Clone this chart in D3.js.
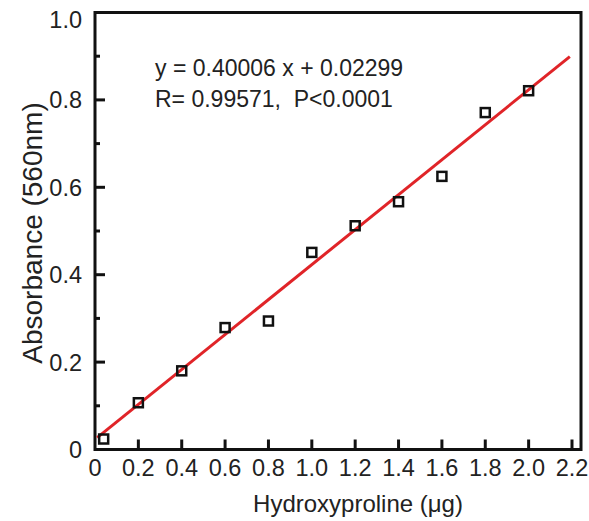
<!DOCTYPE html>
<html>
<head>
<meta charset="utf-8">
<script src="https://cdn.jsdelivr.net/npm/d3@7"></script>
<style>
  html, body { margin: 0; padding: 0; background: #fff; }
  svg text { font-family: "Liberation Sans", Arial, sans-serif; fill: #222; white-space: pre; }
</style>
</head>
<body>
<div id="chart"></div>
<script>
// Standard curve: hydroxyproline amount vs absorbance
const amounts = [0.04, 0.2, 0.4, 0.6, 0.8, 1.0, 1.2, 1.4, 1.6, 1.8, 2.0];
const absorbance = [0.024, 0.107, 0.180, 0.279, 0.294, 0.451, 0.512, 0.567, 0.625, 0.771, 0.821];

// Linear fit reported on the chart
const slope = 0.40006;
const intercept = 0.02299;
const fitRange = [0.01, 2.19];
const fitLabels = ["y = 0.40006 x + 0.02299", "R= 0.99571,  P<0.0001"];

const xTicks = [0.2, 0.4, 0.6, 0.8, 1.0, 1.2, 1.4, 1.6, 1.8, 2.0, 2.2];
const xTickLabels = ["0", "0.2", "0.4", "0.6", "0.8", "1.0", "1.2", "1.4", "1.6", "1.8", "2.0", "2.2"];
const yTicks = [0.1, 0.2, 0.3, 0.4, 0.5, 0.6, 0.7, 0.8, 0.9];
const yTickLabels = ["0", "0.2", "0.4", "0.6", "0.8", "1.0"];

const width = 589;
const height = 521;

const svg = d3.select("#chart")
  .append("svg")
  .attr("width", width)
  .attr("height", height);

const x = d3.scaleLinear().domain([0, 2.2]).range([95, 572]);
const y = d3.scaleLinear().domain([0, 1]).range([449.5, 12.5]);

// Frame
svg.append("rect")
  .attr("x", x(0))
  .attr("y", y(1))
  .attr("width", 581 - x(0))
  .attr("height", y(0) - y(1))
  .attr("fill", "none")
  .attr("stroke", "#111")
  .attr("stroke-width", 3);

// Ticks point inward
svg.append("g")
  .selectAll("line")
  .data(xTicks)
  .join("line")
  .attr("x1", (d) => x(d))
  .attr("x2", (d) => x(d))
  .attr("y1", y(0))
  .attr("y2", y(0) - 10)
  .attr("stroke", "#111")
  .attr("stroke-width", 3);

svg.append("g")
  .selectAll("line")
  .data(yTicks)
  .join("line")
  .attr("x1", x(0))
  .attr("x2", (d, i) => x(0) + (i % 2 ? 10 : 5))
  .attr("y1", (d) => y(d))
  .attr("y2", (d) => y(d))
  .attr("stroke", "#111")
  .attr("stroke-width", 3);

// Tick labels
svg.append("g")
  .selectAll("text")
  .data(xTickLabels)
  .join("text")
  .attr("x", (d) => x(+d))
  .attr("y", 476)
  .attr("text-anchor", "middle")
  .attr("font-size", 23.5)
  .text((d) => d);

svg.append("g")
  .selectAll("text")
  .data(yTickLabels)
  .join("text")
  .attr("x", 82)
  .attr("y", (d) => y(+d) + (+d === 1 ? 15 : 8.5))
  .attr("text-anchor", "end")
  .attr("font-size", 23.5)
  .text((d) => d);

// Axis titles
svg.append("text")
  .attr("x", 358)
  .attr("y", 512)
  .attr("text-anchor", "middle")
  .attr("font-size", 24)
  .text("Hydroxyproline (\u03BCg)");

svg.append("text")
  .attr("transform", "translate(42,233) rotate(-90)")
  .attr("text-anchor", "middle")
  .attr("font-size", 28)
  .text("Absorbance (560nm)");

// Fitted line
svg.append("line")
  .attr("x1", x(fitRange[0]))
  .attr("y1", y(slope * fitRange[0] + intercept))
  .attr("x2", x(fitRange[1]))
  .attr("y2", y(slope * fitRange[1] + intercept))
  .attr("stroke", "#e02428")
  .attr("stroke-width", 3);

// Data points as open squares
const size = 9;
svg.append("g")
  .selectAll("rect")
  .data(amounts)
  .join("rect")
  .attr("x", (d) => x(d) - size / 2)
  .attr("y", (d, i) => y(absorbance[i]) - size / 2)
  .attr("width", size)
  .attr("height", size)
  .attr("fill", "none")
  .attr("stroke", "#111")
  .attr("stroke-width", 2.5);

// Regression annotation
svg.append("g")
  .selectAll("text")
  .data(fitLabels)
  .join("text")
  .attr("x", 155)
  .attr("y", (d, i) => 76 + i * 31)
  .attr("font-size", 23)
  .text((d) => d);
</script>
</body>
</html>
